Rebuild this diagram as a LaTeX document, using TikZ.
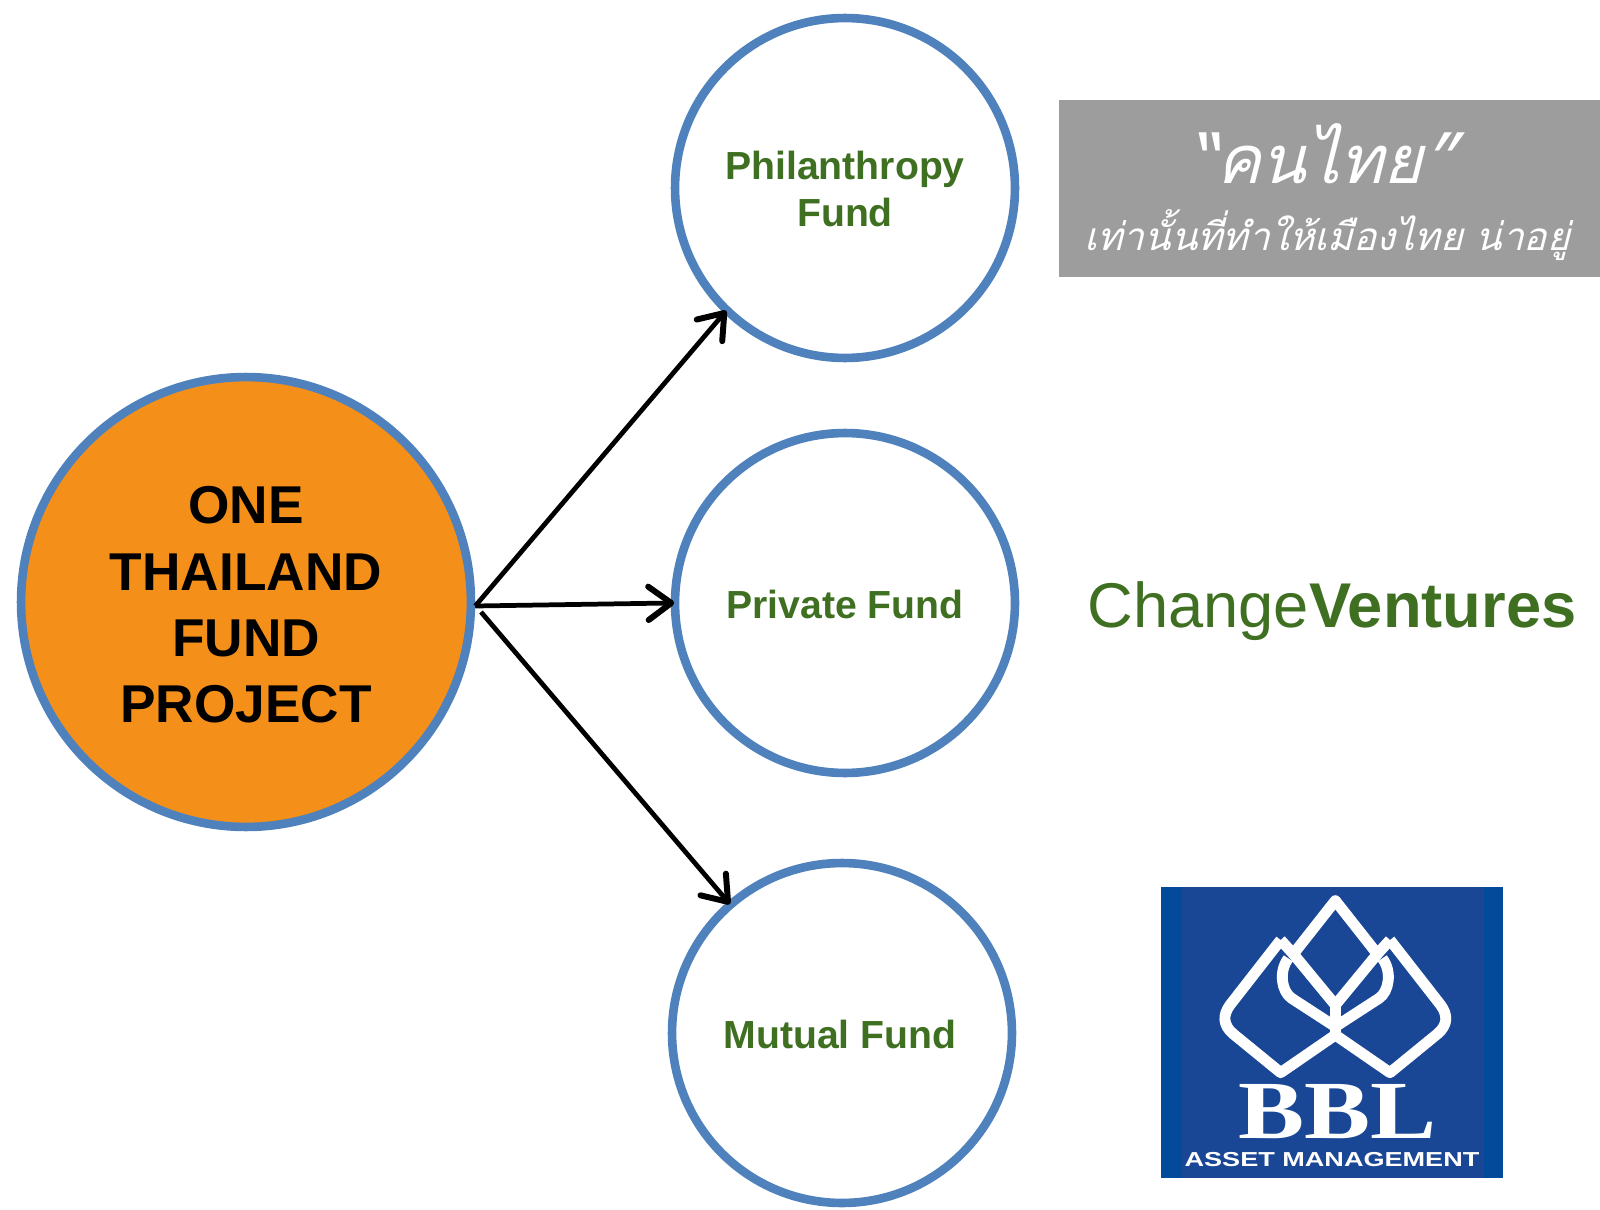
\documentclass[tikz,border=0pt]{standalone}
\usepackage{fontspec}
\setmainfont{Liberation Sans}
\newfontfamily\thaifont[Script=Thai,FakeSlant=0.25]{Loma}
\newfontfamily\bblfont{Liberation Serif}
\usetikzlibrary{arrows.meta}
\definecolor{ringblue}{HTML}{4F81BD}
\definecolor{fundorange}{HTML}{F4901A}
\definecolor{fundgreen}{HTML}{3F6F21}
\definecolor{logogray}{HTML}{9D9D9D}
\definecolor{logoblue}{HTML}{1A4795}
\definecolor{logoedge}{HTML}{044A9B}
\tikzset{
    ring/.style={circle,draw=ringblue,line width=4.9pt,minimum size=6.8cm,fill=white,inner sep=0pt},
    fundlabel/.style={font=\fontsize{22.3}{27}\selectfont\bfseries,text=fundgreen,align=center},
    fundarrow/.style={line width=2.7pt,shorten >=-2pt,-{Straight Barb[length=13pt,width=19pt,line width=3.4pt,round]}},
    logoline/.style={draw=white,line width=6.2pt,line join=round}
}
\begin{document}
\begin{tikzpicture}[x=0.02cm,y=-0.02cm]
    \useasboundingbox (0,0) rectangle (1600,1210);
    \node[ring,fill=fundorange,minimum size=9cm] (project) at (246,602) {};
    \node[font=\fontsize{30.3}{37.8}\selectfont\bfseries,align=center] (projecttext) at (246,605) {ONE\\THAILAND\\FUND\\PROJECT};
    \node[ring] (philanthropy) at (845,188) {};
    \node[ring] (private) at (845,603) {};
    \node[ring] (mutual) at (842,1033) {};
    \node[fundlabel] (philanthropytext) at (845,189) {Philanthropy\\Fund};
    \node[fundlabel] (privatetext) at (845,604) {Private Fund};
    \node[fundlabel] (mutualtext) at (840,1034) {Mutual Fund};
    \coordinate (lowerstart) at (481,612);
    \draw[fundarrow] (project.-1) -- (philanthropy.226.5);
    \draw[fundarrow] (project.-1) -- (private.180);
    \draw[fundarrow] (lowerstart) -- (mutual.131);
    % logo of the philanthropy fund
    \fill[logogray] (1059,100) rectangle (1600,277);
    \node[text=white,font=\thaifont\fontsize{38}{38}\selectfont,anchor=base] (thaitop) at (1322,183) {“คนไทย”};
    \node[text=white,font=\thaifont\fontsize{22}{22}\selectfont,anchor=base] (thaibottom) at (1327,250) {เท่านั้นที่ทำให้เมืองไทย น่าอยู่};
    % logo of the private fund
    \node[text=fundgreen,font=\fontsize{36}{40}\selectfont,anchor=base] (changeventures) at (1332,627) {Change\textbf{Ventures}};
    % logo of the mutual fund
    \fill[logoedge] (1161,887) rectangle (1503,1178);
    \fill[logoblue] (1182,887) rectangle (1484,1178);
    \begin{scope}[shift={(1150,880)},x=0.00667cm,y=-0.00667cm]
        \draw[logoline] (392,180) -- (430,222) -- (556,62) -- (682,222) -- (720,180);
        \draw[logoline] (392,180) -- (240,375) .. controls (218,405) and (218,435) .. (250,462) -- (392,578) -- (556,465) -- (720,578) -- (862,462) .. controls (894,435) and (894,405) .. (872,375) -- (720,180);
        \draw[logoline] (430,222) -- (556,375);
        \draw[logoline] (682,222) -- (556,375);
        \draw[logoline] (415,235) .. controls (385,275) and (395,335) .. (425,355) -- (556,440);
        \draw[logoline] (697,235) .. controls (727,275) and (717,335) .. (687,355) -- (556,440);
        \draw[logoline] (556,375) -- (556,465);
        \node[text=white,inner sep=0pt,font=\bblfont\fontsize{47}{47}\selectfont\bfseries,xscale=1.2,anchor=base] (bbltext) at (563,775) {BBL};
        \node[text=white,inner sep=0pt,font=\fontsize{11.5}{12}\selectfont\bfseries,xscale=1.34,anchor=base] (assettext) at (546,860) {ASSET MANAGEMENT};
    \end{scope}
\end{tikzpicture}
\end{document}
